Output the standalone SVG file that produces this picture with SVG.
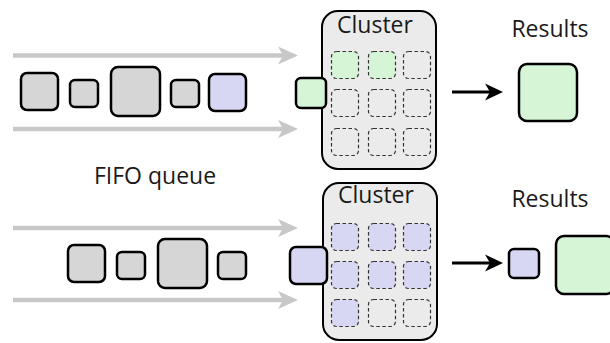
<svg xmlns="http://www.w3.org/2000/svg" width="610" height="343" viewBox="0 0 610 343">
<style>
.t{font-family:"Open Sans","Noto Sans",sans-serif;font-size:23px;fill:#1a1a1a;text-anchor:middle}
.box{stroke:#000;stroke-width:2.5}
.gray{fill:#d6d6d6}
.pur{fill:#d7d7f3}
.grn{fill:#d5f5d6}
.cl{fill:#ebebeb;stroke:#000;stroke-width:2}
.cell{fill:none;stroke:#333;stroke-width:1.2;stroke-dasharray:3.5 2.5}
.cellp{fill:#d7d7f3;stroke:#333;stroke-width:1.2;stroke-dasharray:3.5 2.5}
.cellg{fill:#d5f5d6;stroke:#333;stroke-width:1.2;stroke-dasharray:3.5 2.5}
.ga{stroke:#c8c8c8;stroke-width:4.5;fill:none}
.gh{fill:#c8c8c8}
.ba{stroke:#000;stroke-width:3;fill:none}
</style>
<defs>
<path id="gh" d="M-20,-9 L0,0 L-20,9 L-15,0 Z"/>
<path id="bh" d="M-18,-8.5 L0,0 L-18,8.5 L-13,0 Z"/>
</defs>
<g id="connectors">
<line class="ga" x1="13" y1="55.5" x2="285" y2="55.5"/>
<use href="#gh" class="gh" x="298" y="55.5"/>
<line class="ga" x1="13" y1="129" x2="285" y2="129"/>
<use href="#gh" class="gh" x="298" y="129"/>
<line class="ga" x1="13" y1="228" x2="285" y2="228"/>
<use href="#gh" class="gh" x="298" y="228"/>
<line class="ga" x1="13" y1="300" x2="285" y2="300"/>
<use href="#gh" class="gh" x="298" y="300"/>
<line class="ba" x1="452" y1="92" x2="492" y2="92"/>
<use href="#bh" x="503" y="92"/>
<line class="ba" x1="452" y1="263" x2="492" y2="263"/>
<use href="#bh" x="503" y="263"/>
</g>
<g id="queue-top">
<rect class="box gray" x="21" y="73" width="37" height="37" rx="6"/>
<rect class="box gray" x="70" y="80" width="28" height="27" rx="5"/>
<rect class="box gray" x="111" y="67" width="49" height="49" rx="7"/>
<rect class="box gray" x="171" y="80" width="28" height="27" rx="5"/>
<rect class="box pur" x="209" y="74" width="37" height="37" rx="6"/>
</g>
<g id="cluster-top">
<rect class="cl" x="322" y="11" width="114" height="158" rx="16"/>
<text class="t" x="375" y="33">Cluster</text>
<rect class="cellg" x="331.5" y="51.5" width="27" height="27" rx="5"/>
<rect class="cellg" x="368.5" y="51.5" width="27" height="27" rx="5"/>
<rect class="cell" x="403.5" y="51.5" width="27" height="27" rx="5"/>
<rect class="cell" x="331.5" y="89.5" width="27" height="27" rx="5"/>
<rect class="cell" x="368.5" y="89.5" width="27" height="27" rx="5"/>
<rect class="cell" x="403.5" y="89.5" width="27" height="27" rx="5"/>
<rect class="cell" x="331.5" y="128.5" width="27" height="27" rx="5"/>
<rect class="cell" x="368.5" y="128.5" width="27" height="27" rx="5"/>
<rect class="cell" x="403.5" y="128.5" width="27" height="27" rx="5"/>
</g>
<g id="incoming-top">
<rect class="box grn" x="296" y="78" width="30" height="30" rx="5"/>
</g>
<g id="results-top">
<text class="t" x="550" y="37">Results</text>
<rect class="box grn" x="519" y="64" width="58" height="57" rx="8"/>
</g>
<g id="fifo-label">
<text class="t" x="155" y="184">FIFO queue</text>
</g>
<g id="queue-bottom">
<rect class="box gray" x="68" y="245" width="37" height="37" rx="6"/>
<rect class="box gray" x="117" y="252" width="28" height="27" rx="5"/>
<rect class="box gray" x="158" y="239" width="49" height="49" rx="7"/>
<rect class="box gray" x="218" y="252" width="28" height="27" rx="5"/>
</g>
<g id="cluster-bottom">
<rect class="cl" x="323" y="183" width="114" height="157" rx="16"/>
<text class="t" x="376" y="203">Cluster</text>
<rect class="cellp" x="331.5" y="223.5" width="27" height="27" rx="5"/>
<rect class="cellp" x="368.5" y="223.5" width="27" height="27" rx="5"/>
<rect class="cellp" x="403.5" y="223.5" width="27" height="27" rx="5"/>
<rect class="cellp" x="331.5" y="261.5" width="27" height="27" rx="5"/>
<rect class="cellp" x="368.5" y="261.5" width="27" height="27" rx="5"/>
<rect class="cellp" x="403.5" y="261.5" width="27" height="27" rx="5"/>
<rect class="cellp" x="331.5" y="299.5" width="27" height="27" rx="5"/>
<rect class="cell" x="368.5" y="299.5" width="27" height="27" rx="5"/>
<rect class="cell" x="403.5" y="299.5" width="27" height="27" rx="5"/>
</g>
<g id="incoming-bottom">
<rect class="box pur" x="290" y="247" width="37" height="37" rx="6"/>
</g>
<g id="results-bottom">
<text class="t" x="550" y="207">Results</text>
<rect class="box pur" x="509" y="249" width="30" height="29" rx="5"/>
<rect class="box grn" x="556" y="236" width="58" height="58" rx="8"/>
</g>
</svg>
